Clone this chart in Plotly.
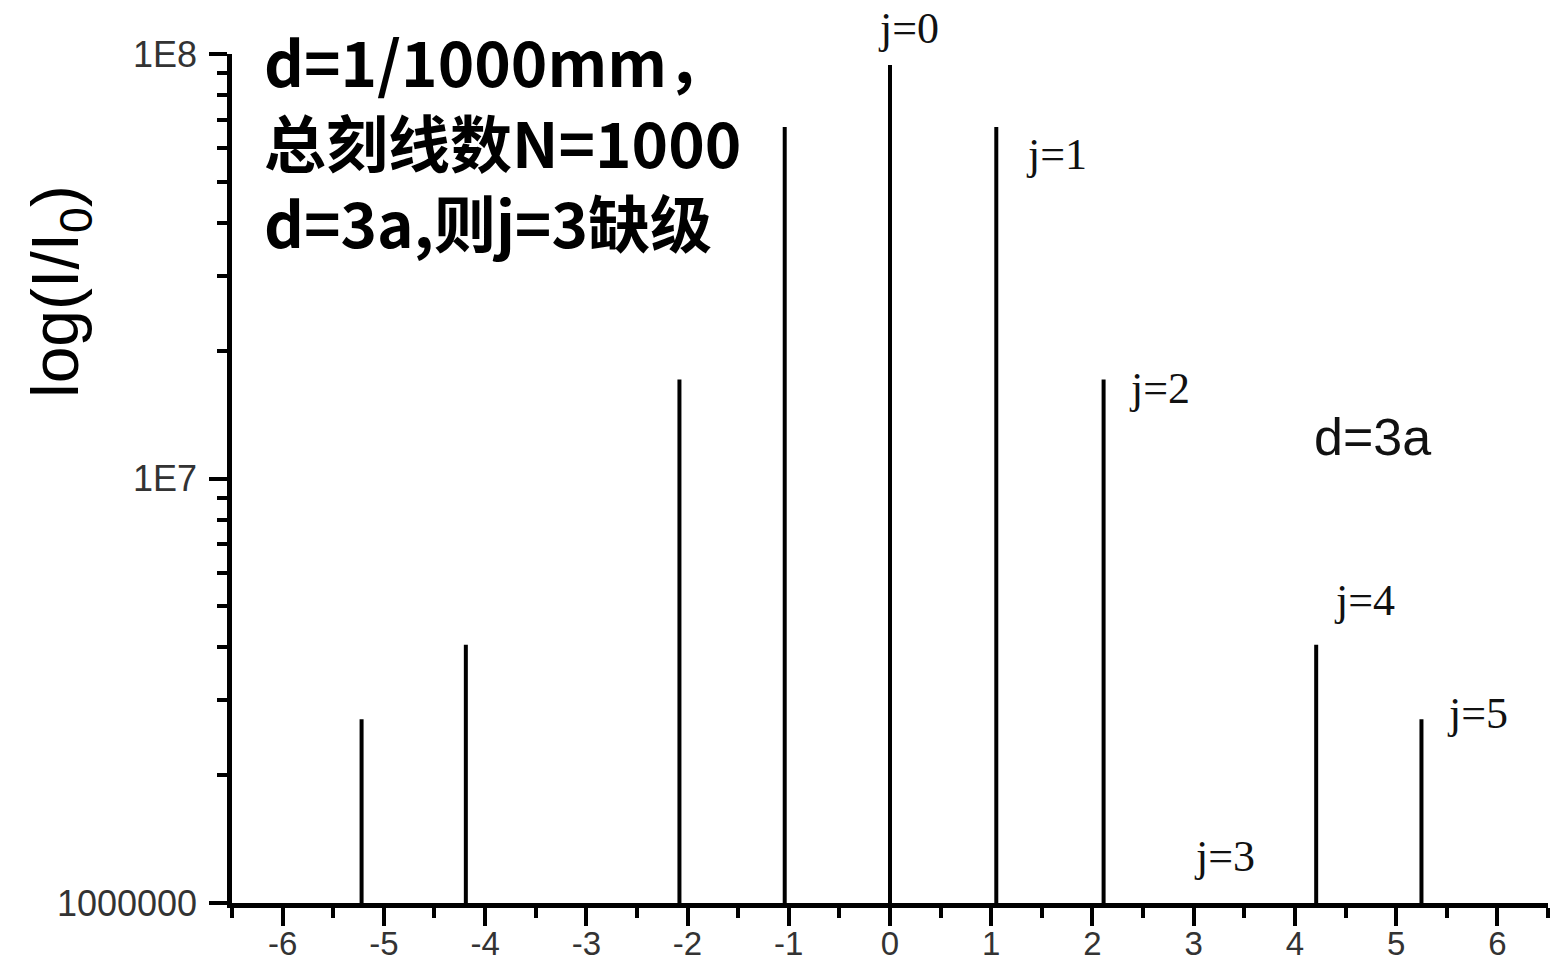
import plotly.graph_objects as go

# Data
orders = [-5, -4, -2, -1, 0, 1, 2, 4, 5]
positions = [-5.22, -4.19, -2.08, -1.04, 0.0, 1.05, 2.11, 4.21, 5.25]
intensity = [2.71e6, 4.06e6, 1.71e7, 6.73e7, 9.42e7, 6.73e7, 1.71e7, 4.06e6, 2.71e6]
baseline = 1e6

label_text = ["j=0", "j=1", "j=2", "j=3", "j=4", "j=5"]
label_x = [0.18, 1.64, 2.66, 3.3, 4.69, 5.8]
label_y_px = [28, 155, 388, 856, 600, 713]

y_tickvals = [1e6, 1e7, 1e8]
y_ticktext = ["1000000", "1E7", "1E8"]
x_tickvals = [-6, -5, -4, -3, -2, -1, 0, 1, 2, 3, 4, 5, 6]

W, H = 1553, 963
L, R, T, B = 232, 5, 54, 60
plot_h = H - T - B


def py2paper(py):
    return (H - B - py) / plot_h


xs, ys = [], []
for x, v in zip(positions, intensity):
    xs += [x, x, None]
    ys += [baseline, v, None]

fig = go.Figure()
fig.add_trace(go.Scatter(x=xs, y=ys, mode="lines",
                         line=dict(color="black", width=4),
                         showlegend=False, hoverinfo="skip"))

minor_y = [m * 10 ** e for e in (6, 7) for m in range(2, 10)]

fig.update_layout(
    width=W, height=H,
    margin=dict(l=L, r=R, t=T, b=B, autoexpand=False),
    paper_bgcolor="white", plot_bgcolor="white",
    showlegend=False,
    xaxis=dict(
        range=[-6.5, 6.5], showgrid=False, zeroline=False, automargin=False,
        showline=True, linecolor="black", linewidth=4.5,
        ticks="outside", ticklen=18, tickwidth=4, tickcolor="black",
        tickvals=x_tickvals, ticktext=[str(v) for v in x_tickvals],
        tickfont=dict(family="Liberation Sans", size=33, color="#333"),
        minor=dict(ticks="outside", ticklen=10, tickwidth=4, tickcolor="black",
                   tickvals=[v + 0.5 for v in range(-7, 7)]),
        ticklabelstandoff=-10,
    ),
    yaxis=dict(
        type="log", range=[6, 8], showgrid=False, zeroline=False, automargin=False,
        showline=True, linecolor="black", linewidth=4.5,
        ticks="outside", ticklen=18, tickwidth=4, tickcolor="black",
        tickvals=y_tickvals, ticktext=y_ticktext,
        tickfont=dict(family="Liberation Sans", size=36, color="#333"),
        minor=dict(ticks="outside", ticklen=10, tickwidth=4, tickcolor="black",
                   tickvals=minor_y),
        ticklabelstandoff=5,
    ),
)

ann = []
for t, x, py in zip(label_text, label_x, label_y_px):
    ann.append(dict(x=x, y=py2paper(py), xref="x", yref="paper", text=t,
                    showarrow=False, xanchor="center", yanchor="middle",
                    font=dict(family="Liberation Serif", size=44, color="#111")))

ann.append(dict(x=4.77, y=py2paper(437), xref="x", yref="paper", text="d=3a",
                showarrow=False, xanchor="center", yanchor="middle",
                font=dict(family="Liberation Sans", size=52, color="#111")))

ann.append(dict(x=(262 - L) / (W - L - R), y=py2paper(141), xref="paper", yref="paper",
                text="<b>d=1/1000mm，<br>总刻线数N=1000<br>d=3a,则j=3缺级</b>",
                showarrow=False, xanchor="left", yanchor="middle", align="left",
                font=dict(family="Noto Sans CJK SC", size=62, color="black")))

ann.append(dict(x=(60 - L) / (W - L - R), y=py2paper(292), xref="paper", yref="paper",
                text="log(I/I<sub>0</sub>)", textangle=-90,
                showarrow=False, xanchor="center", yanchor="middle",
                font=dict(family="Liberation Sans", size=66, color="black")))

fig.update_layout(annotations=ann)

fig.write_html("out.html", config={"displayModeBar": False},
               post_script="document.body.style.margin='0px';document.body.style.overflow='hidden';")
